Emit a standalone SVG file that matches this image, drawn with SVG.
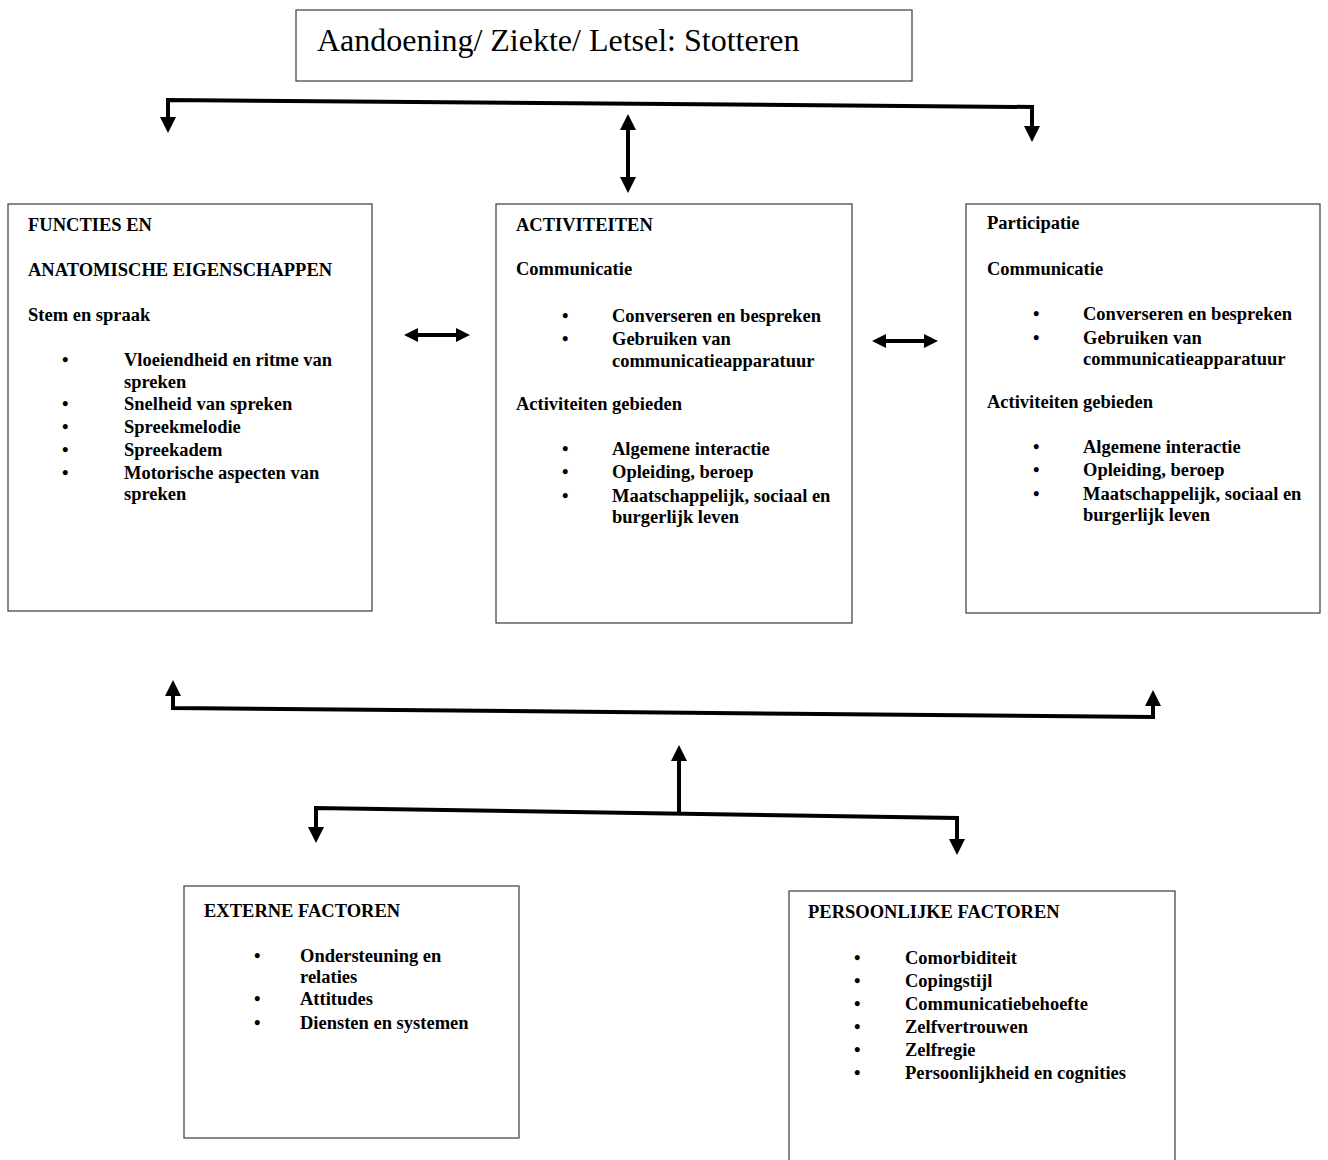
<svg xmlns="http://www.w3.org/2000/svg" width="1328" height="1160" viewBox="0 0 1328 1160">
<style>
.box{fill:#fff;stroke:#3a3a3a;stroke-width:1.2}
.t{font-family:"Liberation Serif","Times New Roman",serif;font-weight:bold;font-size:18.5px;fill:#000}
.title{font-family:"Liberation Serif","Times New Roman",serif;font-size:32px;fill:#000}
.c{fill:none;stroke:#000;stroke-width:4;stroke-linejoin:miter}
</style>
<defs>
<marker id="ah" viewBox="0 -8 16 16" refX="0" refY="0" markerWidth="16" markerHeight="16" markerUnits="userSpaceOnUse" orient="auto-start-reverse">
<path d="M0,-8 L16,0 L0,8 z" fill="#000"/>
</marker>
<marker id="ahs" viewBox="0 -7 14 14" refX="0" refY="0" markerWidth="14" markerHeight="14" markerUnits="userSpaceOnUse" orient="auto-start-reverse">
<path d="M0,-7 L14,0 L0,7 z" fill="#000"/>
</marker>
</defs>
<rect width="1328" height="1160" fill="#fff"/>
<g id="connectors">
<polyline class="c" points="168,117 168,100 1032,107 1032,126" marker-start="url(#ah)" marker-end="url(#ah)"/>
<line class="c" x1="628" y1="130" x2="628" y2="177" marker-start="url(#ah)" marker-end="url(#ah)"/>
<line class="c" x1="418" y1="335" x2="456" y2="335" marker-start="url(#ahs)" marker-end="url(#ahs)"/>
<line class="c" x1="886" y1="341" x2="924" y2="341" marker-start="url(#ahs)" marker-end="url(#ahs)"/>
<polyline class="c" points="173,696 173,708 1153,717 1153,706" marker-start="url(#ah)" marker-end="url(#ah)"/>
<line class="c" x1="679" y1="813" x2="679" y2="761" marker-end="url(#ah)"/>
<polyline class="c" points="316,827 316,808 957,818 957,839" marker-start="url(#ah)" marker-end="url(#ah)"/>
</g>
<g id="node-aandoening">
<rect class="box" x="296" y="10" width="616" height="71"/>
<text class="title" x="317" y="51">Aandoening/ Ziekte/ Letsel: Stotteren</text>
</g>
<g id="node-functies">
<rect class="box" x="8" y="204" width="364" height="407"/>
<text class="t" x="28" y="231">FUNCTIES EN</text>
<text class="t" x="28" y="276">ANATOMISCHE EIGENSCHAPPEN</text>
<text class="t" x="28" y="321">Stem en spraak</text>
<text class="t" x="62" y="366">•</text><text class="t" x="124" y="366">Vloeiendheid en ritme van</text>
<text class="t" x="124" y="388">spreken</text>
<text class="t" x="62" y="410">•</text><text class="t" x="124" y="410">Snelheid van spreken</text>
<text class="t" x="62" y="433">•</text><text class="t" x="124" y="433">Spreekmelodie</text>
<text class="t" x="62" y="456">•</text><text class="t" x="124" y="456">Spreekadem</text>
<text class="t" x="62" y="479">•</text><text class="t" x="124" y="479">Motorische aspecten van</text>
<text class="t" x="124" y="500">spreken</text>
</g>
<g id="node-activiteiten">
<rect class="box" x="496" y="204" width="356" height="419"/>
<text class="t" x="516" y="231">ACTIVITEITEN</text>
<text class="t" x="516" y="275">Communicatie</text>
<text class="t" x="562" y="322">•</text><text class="t" x="612" y="322">Converseren en bespreken</text>
<text class="t" x="562" y="345">•</text><text class="t" x="612" y="345">Gebruiken van</text>
<text class="t" x="612" y="367">communicatieapparatuur</text>
<text class="t" x="516" y="410">Activiteiten gebieden</text>
<text class="t" x="562" y="455">•</text><text class="t" x="612" y="455">Algemene interactie</text>
<text class="t" x="562" y="478">•</text><text class="t" x="612" y="478">Opleiding, beroep</text>
<text class="t" x="562" y="502">•</text><text class="t" x="612" y="502">Maatschappelijk, sociaal en</text>
<text class="t" x="612" y="523">burgerlijk leven</text>
</g>
<g id="node-participatie">
<rect class="box" x="966" y="204" width="354" height="409"/>
<text class="t" x="987" y="229">Participatie</text>
<text class="t" x="987" y="275">Communicatie</text>
<text class="t" x="1033" y="320">•</text><text class="t" x="1083" y="320">Converseren en bespreken</text>
<text class="t" x="1033" y="344">•</text><text class="t" x="1083" y="344">Gebruiken van</text>
<text class="t" x="1083" y="365">communicatieapparatuur</text>
<text class="t" x="987" y="408">Activiteiten gebieden</text>
<text class="t" x="1033" y="453">•</text><text class="t" x="1083" y="453">Algemene interactie</text>
<text class="t" x="1033" y="476">•</text><text class="t" x="1083" y="476">Opleiding, beroep</text>
<text class="t" x="1033" y="500">•</text><text class="t" x="1083" y="500">Maatschappelijk, sociaal en</text>
<text class="t" x="1083" y="521">burgerlijk leven</text>
</g>
<g id="node-externe">
<rect class="box" x="184" y="886" width="335" height="252"/>
<text class="t" x="204" y="917">EXTERNE FACTOREN</text>
<text class="t" x="254" y="962">•</text><text class="t" x="300" y="962">Ondersteuning en</text>
<text class="t" x="300" y="983">relaties</text>
<text class="t" x="254" y="1005">•</text><text class="t" x="300" y="1005">Attitudes</text>
<text class="t" x="254" y="1029">•</text><text class="t" x="300" y="1029">Diensten en systemen</text>
</g>
<g id="node-persoonlijke">
<rect class="box" x="789" y="891" width="386" height="280"/>
<text class="t" x="808" y="918">PERSOONLIJKE FACTOREN</text>
<text class="t" x="854" y="964">•</text><text class="t" x="905" y="964">Comorbiditeit</text>
<text class="t" x="854" y="987">•</text><text class="t" x="905" y="987">Copingstijl</text>
<text class="t" x="854" y="1010">•</text><text class="t" x="905" y="1010">Communicatiebehoefte</text>
<text class="t" x="854" y="1033">•</text><text class="t" x="905" y="1033">Zelfvertrouwen</text>
<text class="t" x="854" y="1056">•</text><text class="t" x="905" y="1056">Zelfregie</text>
<text class="t" x="854" y="1079">•</text><text class="t" x="905" y="1079">Persoonlijkheid en cognities</text>
</g>
</svg>
